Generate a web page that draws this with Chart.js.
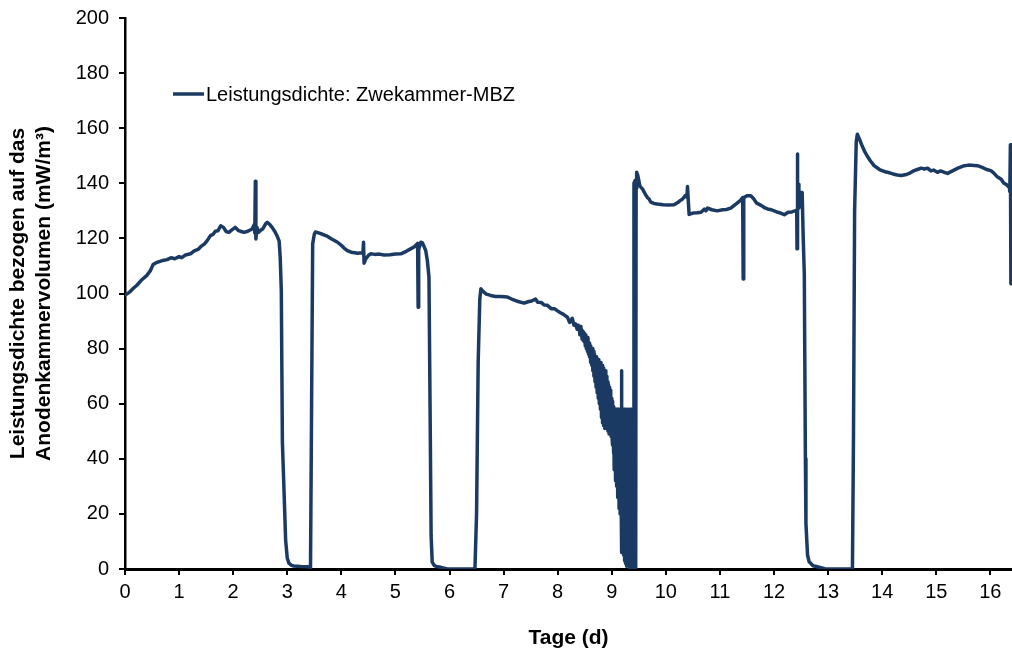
<!DOCTYPE html>
<html>
<head>
<meta charset="utf-8">
<script src="https://cdn.jsdelivr.net/npm/chart.js@4/dist/chart.umd.min.js"></script>
<style>
  html, body { margin: 0; padding: 0; background: #ffffff; }
  #wrap { width: 1012px; height: 654px; position: relative; }
</style>
</head>
<body>
<div id="wrap"><canvas id="c" width="1012" height="654"></canvas></div>
<script>
// ---- Data ----
const seriesLabel = "Leistungsdichte: Zwekammer-MBZ";
const xTitle = "Tage (d)";
const yTitle = ["Leistungsdichte bezogen auf das", "Anodenkammervolumen (mW/m³)"];

const days = [
  0.00, 0.05, 0.10, 0.15, 0.22, 0.30, 0.40, 0.47, 0.52, 0.56, 0.62, 0.70, 0.78, 0.85, 0.92, 1.00,
  1.05, 1.12, 1.21, 1.28, 1.35, 1.40, 1.47, 1.52, 1.58, 1.63, 1.67, 1.72, 1.77, 1.82, 1.87, 1.92,
  1.97, 2.04, 2.10, 2.15, 2.20, 2.27, 2.35, 2.39, 2.40, 2.41, 2.42, 2.44, 2.47, 2.50, 2.55, 2.60,
  2.63, 2.67, 2.72, 2.77, 2.81, 2.85, 2.87, 2.89, 2.91, 2.94, 2.97, 3.00, 3.03, 3.08, 3.12, 3.25,
  3.40, 3.43, 3.45, 3.47, 3.50, 3.52, 3.58, 3.65, 3.74, 3.82, 3.93, 4.00, 4.05, 4.11, 4.18, 4.25,
  4.30, 4.38, 4.40, 4.41, 4.42, 4.45, 4.50, 4.54, 4.62, 4.70, 4.79, 4.90, 5.00, 5.10, 5.20, 5.28,
  5.35, 5.41, 5.42, 5.43, 5.47, 5.50, 5.53, 5.56, 5.59, 5.62, 5.64, 5.66, 5.68, 5.72, 5.78, 5.84,
  5.96, 6.20, 6.47, 6.50, 6.53, 6.56, 6.58, 6.62, 6.68, 6.76, 6.85, 6.95, 7.07, 7.15, 7.25, 7.38,
  7.45, 7.52, 7.59, 7.63, 7.70, 7.75, 7.81, 7.88, 7.94, 7.99, 8.05, 8.10, 8.18, 8.22, 8.27, 8.30,
  8.33, 8.36, 8.38,
  8.40, 8.41, 8.42, 8.43, 8.44, 8.45, 8.46, 8.47, 8.48, 8.49, 8.50, 8.51, 8.52, 8.53, 8.54, 8.55,
  8.56, 8.57, 8.58, 8.59, 8.60, 8.61, 8.62, 8.63, 8.64, 8.65, 8.66, 8.67, 8.68, 8.69, 8.70, 8.71,
  8.72, 8.73, 8.74, 8.75, 8.76, 8.77, 8.78, 8.79, 8.80, 8.81, 8.82, 8.83, 8.84, 8.85, 8.86, 8.87,
  8.88, 8.89, 8.90, 8.91, 8.92, 8.93, 8.94, 8.95, 8.96, 8.97, 8.98, 8.99,
  9.00, 9.005, 9.01, 9.015, 9.02, 9.025, 9.03, 9.035, 9.04, 9.045, 9.05, 9.055, 9.06, 9.065, 9.07, 9.075,
  9.08, 9.085, 9.09, 9.095, 9.10, 9.105, 9.11, 9.115, 9.12, 9.125, 9.13, 9.135, 9.14, 9.145, 9.15, 9.155,
  9.16, 9.165, 9.17, 9.175, 9.18, 9.185,
  9.19, 9.195, 9.20, 9.205, 9.21, 9.215, 9.22, 9.225, 9.23, 9.235, 9.24, 9.245, 9.25, 9.255, 9.26, 9.265,
  9.27, 9.275, 9.28, 9.285, 9.29, 9.295, 9.30, 9.305, 9.31, 9.315, 9.32, 9.325, 9.33, 9.335, 9.34, 9.345,
  9.35, 9.355, 9.36, 9.365, 9.37, 9.38, 9.40, 9.41, 9.43, 9.44, 9.445, 9.45, 9.46, 9.48, 9.52, 9.57,
  9.62, 9.66, 9.69, 9.72, 9.78, 9.84, 9.95, 10.05, 10.15, 10.22, 10.27, 10.31, 10.36, 10.39, 10.40, 10.42,
  10.43, 10.50, 10.58, 10.65, 10.71, 10.74, 10.77, 10.85, 10.95, 11.05, 11.12, 11.20, 11.30, 11.38, 11.42, 11.43,
  11.44, 11.50, 11.57, 11.62, 11.68, 11.76, 11.82, 11.88, 11.95, 12.05, 12.12, 12.19, 12.26, 12.33, 12.40, 12.42,
  12.425, 12.43, 12.44, 12.455, 12.46, 12.49, 12.52, 12.54, 12.56, 12.58, 12.59, 12.62, 12.65, 12.72, 12.80, 12.95,
  13.20, 13.45, 13.47, 13.49, 13.52, 13.54, 13.58, 13.63, 13.67, 13.72, 13.78, 13.85, 13.95, 14.05, 14.10, 14.20,
  14.28, 14.35, 14.45, 14.52, 14.59, 14.65, 14.72, 14.78, 14.84, 14.90, 14.95, 15.02, 15.08, 15.15, 15.21, 15.30,
  15.40, 15.52, 15.60, 15.70, 15.76, 15.85, 15.93, 16.01, 16.06, 16.12, 16.20, 16.25, 16.30, 16.35, 16.36, 16.37,
  16.38, 16.39, 16.40
];

const powerDensity = [
  99.5, 100, 100.8, 101.8, 103, 104.8, 106.5, 108.3, 110.5, 111, 111.5, 112, 112.3, 113, 112.6, 113.4,
  113, 114, 114.4, 115.5, 116, 117, 118, 119.2, 121, 121.5, 122.6, 122.8, 124.6, 124, 122.5, 122.2,
  123, 124, 122.8, 122.5, 122.2, 122.6, 123.4, 125, 122, 140.7, 119.8, 124, 122.2, 122.8, 123.5, 125.3,
  125.8, 125.2, 124, 122.5, 121, 119, 113, 101, 46, 28.6, 10.5, 4, 2.1, 1.3, 1.1, 0.9,
  0.8, 0.2, 60, 118, 121.5, 122.3, 122, 121.5, 120.8, 119.8, 118.6, 117.5, 116.5, 115.6, 115, 114.8,
  114.6, 114.8, 115, 118.6, 111, 112.5, 113.8, 114.4, 114.2, 114.3, 114, 114.1, 114.3, 114.4, 115.3, 116.2,
  117, 118.2, 95, 116, 118.6, 118.4, 117, 115.6, 112, 106, 60, 12, 2.5, 1.2, 0.8, 0.6,
  0, 0, 0, 20, 75, 98, 101.7, 100.8, 99.8, 99.3, 98.9, 98.9, 98.7, 98, 97.2, 96.5,
  97, 97.3, 98, 96.8, 96.7, 95.8, 95.7, 94.5, 94.5, 93.8, 93, 92.5, 91.4, 89.5, 91, 88.5,
  89, 87, 88.5,
  87.5, 85, 88, 85.5, 87, 83.5, 86.5, 83, 86, 82.5, 85.5, 81, 85, 80, 84, 79,
  84, 78, 82, 77, 81, 75, 80, 74, 80, 72, 79, 70, 78, 68, 77, 66,
  77, 64, 76, 62, 76, 60, 75, 58, 75, 55, 74, 53, 73, 52, 72, 51,
  72, 52, 70, 51, 68, 50, 67, 49, 66, 50, 65, 48,
  62, 48, 60, 45, 61, 50, 58, 42, 59, 36, 58, 45, 57, 38, 58, 32,
  58, 40, 57, 30, 58, 35, 57, 26, 58, 30, 57, 22, 58, 28, 57, 20,
  58, 24, 57, 22, 72, 6,
  58, 12, 58, 18, 57, 5, 58, 10, 58, 3, 57, 14, 58, 2, 57, 8,
  58, 1, 57, 6, 58, 2, 57, 9, 58, 1, 57, 4, 58, 0, 57, 3,
  58, 1, 58, 2, 58, 0, 0, 140, 141, 1, 0, 138, 144, 143, 139, 137.9,
  136, 134.8, 134.3, 133.2, 132.7, 132.5, 132.2, 132.1, 132.2, 133, 133.8, 134.3, 135.5, 135, 138.8, 132,
  128.7, 129.2, 129.3, 129.5, 130.6, 130, 131, 130.4, 130, 130.4, 130.5, 131, 132.5, 133.8, 134.8, 105.3,
  134.8, 135.5, 135.5, 134.5, 132.8, 132, 131.2, 130.7, 130.4, 129.6, 129.2, 128.6, 129.5, 129.6, 130.1, 130.3,
  116.2, 150.6, 139.7, 139.7, 131, 136.7, 136.7, 120, 107, 40, 16.5, 5, 2.6, 1.2, 0.8, 0,
  0, 0, 50, 130, 155, 157.8, 156, 153.5, 151.8, 150, 148.2, 146.4, 145, 144.2, 144, 143.4,
  143, 142.8, 143.2, 143.8, 144.6, 145, 145.5, 145.2, 145.5, 144.5, 144.8, 144, 144.5, 144, 143.6, 144.5,
  145.5, 146.4, 146.6, 146.5, 146.4, 145.8, 145, 144.6, 143.8, 142.5, 141.5, 140, 139.5, 138.5, 137, 154,
  103.5, 140, 140
];

const xMin = 0, xMax = 16.4, xStep = 1;
const yMin = 0, yMax = 200, yStep = 20;

// ---- Chart ----
const lineColor = '#1b3a63';
const fontFamily = "'Liberation Sans', Arial, Helvetica, sans-serif";

const points = days.map((d, i) => ({ x: d, y: powerDensity[i] }));

const legendPlugin = {
  id: 'insideLegend',
  afterDraw(chart) {
    const ctx = chart.ctx;
    const ds = chart.data.datasets[0];
    ctx.save();
    ctx.strokeStyle = ds.borderColor;
    ctx.lineWidth = 3.5;
    ctx.lineCap = 'butt';
    ctx.beginPath();
    ctx.moveTo(173, 94);
    ctx.lineTo(204, 94);
    ctx.stroke();
    ctx.fillStyle = '#000';
    ctx.font = "20px " + fontFamily;
    ctx.textBaseline = 'middle';
    ctx.textAlign = 'left';
    ctx.fillText(ds.label, 206, 95);
    ctx.restore();
  }
};

new Chart(document.getElementById('c'), {
  type: 'line',
  data: {
    datasets: [{
      label: seriesLabel,
      data: points,
      borderColor: lineColor,
      backgroundColor: lineColor,
      borderWidth: 3.5,
      pointRadius: 0,
      tension: 0,
      fill: false,
      borderJoinStyle: 'round',
      borderCapStyle: 'round'
    }]
  },
  options: {
    responsive: false,
    animation: false,
    devicePixelRatio: 1,
    layout: { padding: { top: 18, right: 0, bottom: 0, left: 0 } },
    plugins: {
      legend: { display: false },
      tooltip: { enabled: false },
      title: { display: false }
    },
    scales: {
      x: {
        type: 'linear',
        min: xMin,
        max: xMax,
        afterFit(scale) { scale.height = 85; scale.paddingLeft = 0; scale.paddingRight = 0; },
        ticks: {
          stepSize: xStep,
          includeBounds: false,
          color: '#000',
          padding: 5,
          maxRotation: 0,
          autoSkip: false,
          font: { family: fontFamily, size: 20 }
        },
        grid: {
          drawOnChartArea: false,
          drawTicks: true,
          tickLength: 6,
          color: '#000',
          lineWidth: 2
        },
        border: { display: true, color: '#000', width: 3 },
        title: {
          display: true,
          text: xTitle,
          color: '#000',
          padding: { top: 0, bottom: 3 },
          font: { family: fontFamily, size: 21, weight: 'bold' }
        }
      },
      y: {
        type: 'linear',
        min: yMin,
        max: yMax,
        afterFit(scale) { scale.width = 125; scale.paddingTop = 0; scale.paddingBottom = 0; },
        ticks: {
          stepSize: yStep,
          color: '#000',
          padding: 10,
          font: { family: fontFamily, size: 20 }
        },
        grid: {
          drawOnChartArea: false,
          drawTicks: true,
          tickLength: 6,
          color: '#000',
          lineWidth: 2
        },
        border: { display: true, color: '#000', width: 2.5 },
        title: {
          display: true,
          text: yTitle,
          color: '#000',
          padding: { top: 5, bottom: 0 },
          font: { family: fontFamily, size: 21, weight: 'bold', lineHeight: 1.25 }
        }
      }
    }
  },
  plugins: [legendPlugin]
});
</script>
</body>
</html>
